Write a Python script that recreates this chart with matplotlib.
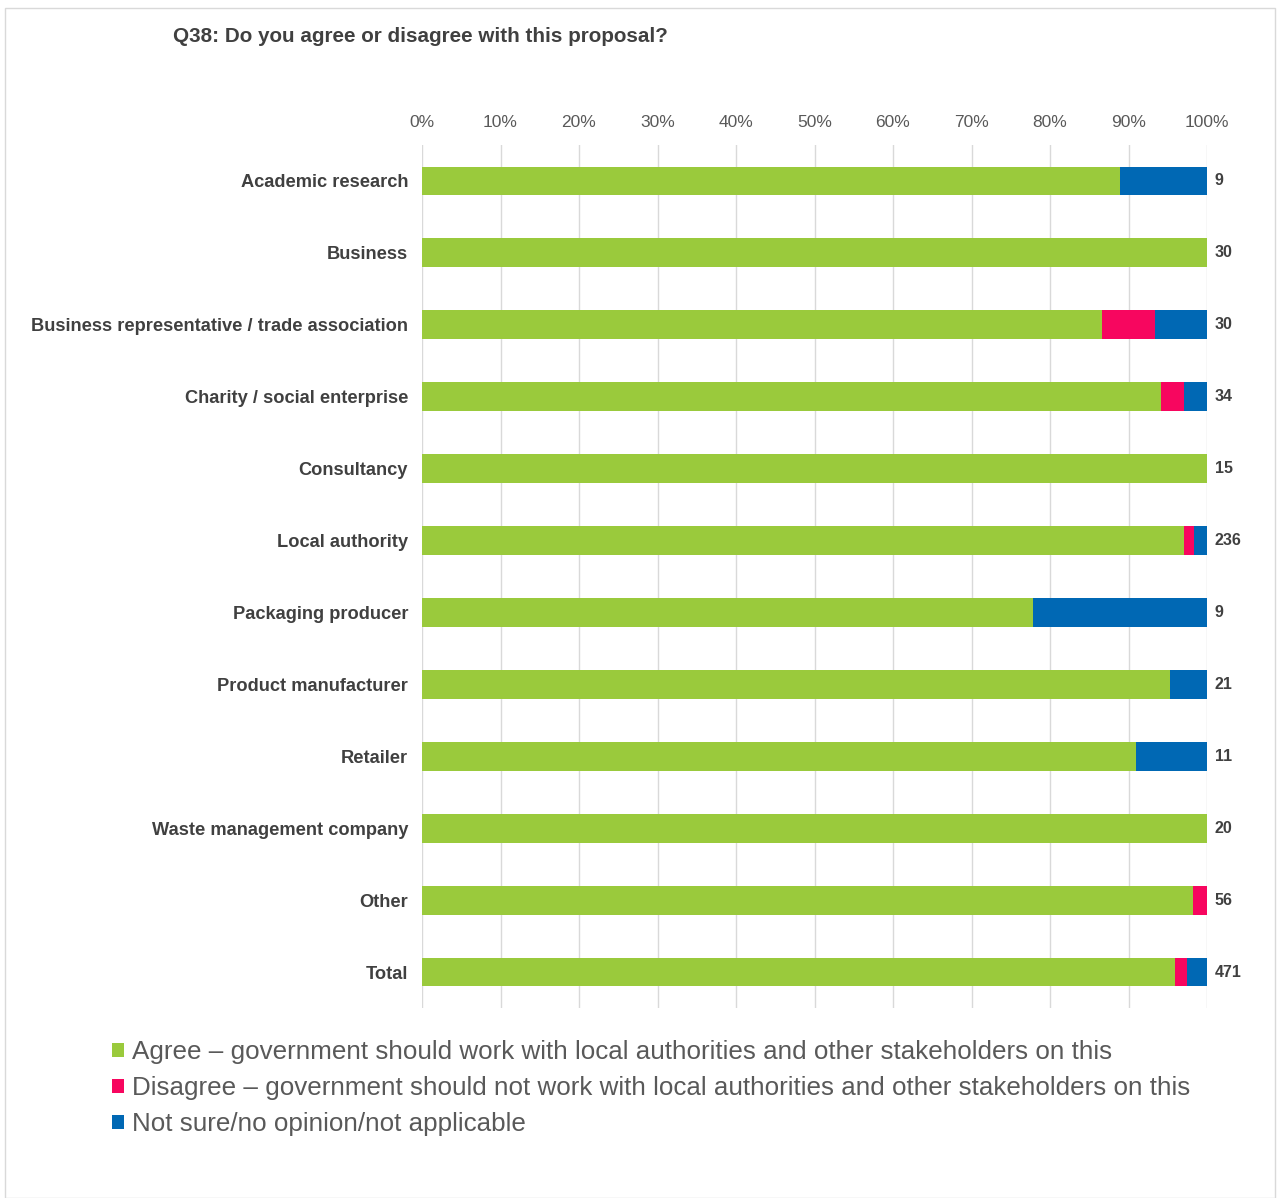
import matplotlib
matplotlib.use("Agg")
import matplotlib.pyplot as plt
import numpy as np
from matplotlib.patches import Rectangle

categories = ["Academic research", "Business", "Business representative / trade association",
              "Charity / social enterprise", "Consultancy", "Local authority",
              "Packaging producer", "Product manufacturer", "Retailer",
              "Waste management company", "Other", "Total"]
agree = [8, 30, 26, 32, 15, 229, 7, 20, 10, 20, 55, 452]
disagree = [0, 0, 2, 1, 0, 3, 0, 0, 0, 0, 1, 7]
not_sure = [1, 0, 2, 1, 0, 4, 2, 1, 1, 0, 0, 12]
totals = [9, 30, 30, 34, 15, 236, 9, 21, 11, 20, 56, 471]
series_labels = ["Agree \u2013 government should work with local authorities and other stakeholders on this",
                 "Disagree \u2013 government should not work with local authorities and other stakeholders on this",
                 "Not sure/no opinion/not applicable"]
xticks = [0, 10, 20, 30, 40, 50, 60, 70, 80, 90, 100]

colors = ["#9ACA3C", "#F7065F", "#0068B4"]

plt.rcParams['font.family'] = ['Liberation Sans', 'DejaVu Sans']

W, H = 1282, 1198
fig = plt.figure(figsize=(W / 100, H / 100), dpi=100)
ax = fig.add_axes([422 / W, 1 - 1008 / H, (1207 - 422) / W, (1008 - 145) / H])

tot = np.array(totals, dtype=float)
a = np.array(agree) / tot * 100
d = np.array(disagree) / tot * 100
n = np.array(not_sure) / tot * 100
y = np.arange(len(categories))

h = 0.4
b1 = ax.barh(y, a, height=h, color=colors[0], label=series_labels[0], zorder=3)
b2 = ax.barh(y, d, left=a, height=h, color=colors[1], label=series_labels[1], zorder=3)
b3 = ax.barh(y, n, left=a + d, height=h, color=colors[2], label=series_labels[2], zorder=3)

for yi, t in zip(y, totals):
    ax.text(101, yi, str(t), va='center', ha='left', fontsize=11.5, fontweight='bold', color='#404040')

ax.set_xlim(0, 100)
ax.set_ylim(len(categories) - 0.5, -0.5)
ax.set_xticks(xticks)
ax.set_xticklabels([f"{v}%" for v in xticks])
ax.xaxis.tick_top()
ax.tick_params(axis='x', length=0, pad=11, labelsize=12.5, labelcolor='#595959')
ax.set_yticks(y)
ax.set_yticklabels(categories)
ax.tick_params(axis='y', length=0, pad=10, labelsize=13.15, labelcolor='#404040')
for lbl in ax.get_yticklabels():
    lbl.set_fontweight('bold')
ax.grid(axis='x', color='#D9D9D9', linewidth=1, zorder=0)
for s in ax.spines.values():
    s.set_visible(False)

fig.text(173 / W, 1 - 36 / H, "Q38: Do you agree or disagree with this proposal?",
         fontsize=14.9, fontweight='bold', color='#404040', va='center', ha='left')

leg = fig.legend(handles=[b1, b2, b3], loc='upper left', bbox_to_anchor=(112 / W, 1 - 1040 / H),
                 frameon=False, fontsize=18.7, handlelength=0.48, handleheight=0.48,
                 handletextpad=0.3, labelspacing=0.47, borderaxespad=0, borderpad=0)
for t in leg.get_texts():
    t.set_color('#595959')

fig.patches.append(Rectangle((5 / W, 0), 1 - 12 / W, 1 - 8 / H, transform=fig.transFigure,
                             fill=False, edgecolor='#D9D9D9', linewidth=1))

fig.savefig("out.png", dpi=100, facecolor='white')
